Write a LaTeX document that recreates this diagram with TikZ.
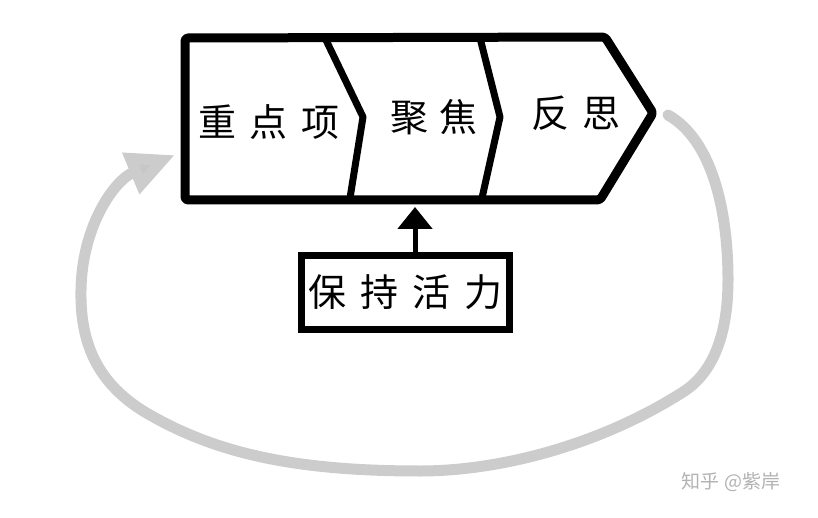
\documentclass[tikz,border=0pt]{standalone}
\usepackage{fontspec}
\newfontfamily\cjk{Noto Sans CJK SC}
\usetikzlibrary{arrows.meta}

\begin{document}
\begin{tikzpicture}[
        x=1pt, y=-1pt,
        stagetext/.style={
            font=\cjk\fontsize{38pt}{40pt}\selectfont,
            inner sep=0pt
        },
        energybox/.style={
            rectangle,
            draw,
            line width=7pt,
            minimum width=208pt,
            minimum height=74pt,
            font=\cjk\fontsize{38pt}{40pt}\selectfont,
            inner sep=0pt
        },
        lift/.style={
            -{Triangle[length=22pt,width=34pt]},
            line width=5pt
        },
        cyclearrow/.style={
            -{Triangle[length=48pt,width=42pt,fill=black!22]},
            draw=black!20,
            line width=11pt,
            line cap=round
        }
    ]

        \useasboundingbox (0,0) rectangle (818,518);

        \coordinate (tl) at (185,38);
        \coordinate (tr) at (605,37);
        \coordinate (tip) at (653,113);
        \coordinate (br) at (600,200);
        \coordinate (bl) at (185,200);

        \draw[line width=9pt, line join=round, rounded corners=3pt]
            (tl) -- (tr) -- (tip) -- (br) -- (bl) -- cycle;
        \draw[line width=7pt, line join=round] (325,38) -- (363,117) -- (350,198);
        \draw[line width=7pt, line join=round] (480,38) -- (500,117) -- (482,198);

        \node[stagetext] (prio) at (269,122) {重\hskip14pt 点\hskip14pt 项};
        \node[stagetext] (focus) at (434,117) {聚\hskip12pt 焦};
        \node[stagetext] (reflect) at (576,113) {反\hskip14pt 思};

        \node[energybox] (energy) at (405.5,292.5) {保\hskip14pt 持\hskip14pt 活\hskip14pt 力};

        \coordinate (bandbot) at (415,207);
        \draw[lift] ([xshift=9.5pt]energy.north) -- (bandbot);

        \coordinate (tipout) at (668,115);
        \coordinate (leftin) at (175,155);
        \draw[cyclearrow] (tipout)
            .. controls (712,140) and (728,210) .. (728,280)
            .. controls (728,340) and (710,375) .. (683,392)
            .. controls (600,445) and (500,471) .. (420,471)
            .. controls (300,471) and (220,455) .. (150,415)
            .. controls (95,384) and (80,340) .. (81,290)
            .. controls (82,225) and (115,180) .. (leftin);

        \node[font=\cjk\fontsize{19pt}{20pt}\selectfont, text=black!30] (mark) at (731,482) {知乎 @紫岸};

    \end{tikzpicture}
\end{document}
